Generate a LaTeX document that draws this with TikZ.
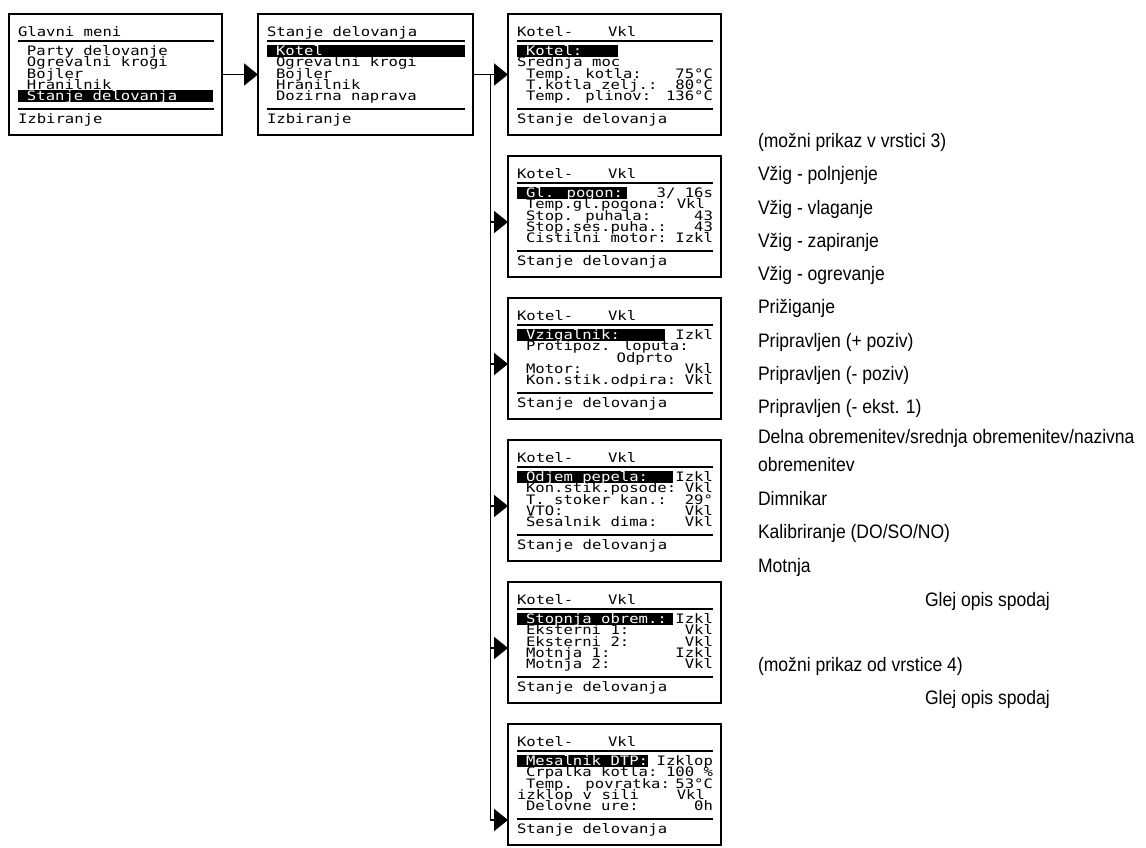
\documentclass[tikz,border=0pt]{standalone}
\usepackage{fontspec}
\setmainfont{Liberation Sans}[FakeStretch=0.9]
\newfontfamily\lcdfont{DejaVu Sans Mono}[FakeStretch=1.2]
\usetikzlibrary{arrows.meta,calc}

\tikzset{
 screen/.style={draw=black, line width=1.7pt, fill=white, minimum width=213pt, minimum height=121pt, inner sep=0pt, outer sep=0pt, anchor=north west},
 lcd/.style={inner sep=0pt, outer sep=0pt, font=\lcdfont\fontsize{13}{13}\selectfont},
 lcdinv/.style={lcd, text=white},
 sepline/.style={line width=1.4pt},
 hlbar/.style={fill=black},
 conn/.style={line width=1.9pt},
 arr/.style={conn, -{Triangle[length=14pt,width=22pt]}},
 note/.style={inner sep=0pt, outer sep=0pt, anchor=base west, font=\fontsize{19.5}{21}\selectfont},
}

% #1 W
\newcommand\lcdlines[1]{%
 \draw[sepline] (9,27) -- (#1-8,27);
 \draw[sepline] (9,95) -- (#1-8,95);}
% #1 name, #2 k, #3 x, #4 label, #5 value
\newcommand\lcdrow[5]{%
 \node[lcd,anchor=base west] (#1r#2) at (#3,{41.6+11.2*#2}) {#4};
 \node[lcd,anchor=base east] (#1v#2) at (205,{41.6+11.2*#2}) {#5};}
% #1 name, #2 k, #3 bar end x, #4 label
\newcommand\lcdhl[4]{%
 \fill[hlbar] (9,{37+11.2*#2-6}) rectangle (#3,{37+11.2*#2+6});
 \node[lcdinv,anchor=base west] (#1h) at (18,{41.6+11.2*#2}) {#4};}
\newcommand\lcdhead[3]{%
 \node[lcd,anchor=base west] (#1t) at (9,22.5) {#2};
 \node[lcd,anchor=base west] (#1u) at (100,22.5) {#3};}
\newcommand\lcdfoot[2]{\node[lcd,anchor=base west] (#1f) at (9,109) {#2};}

\begin{document}
\begin{tikzpicture}[x=1pt,y=-1pt]
\path[fill=white] (0,0) rectangle (1146,847);
\useasboundingbox (0,0) rectangle (1146,847);

% ---- Box 1
\begin{scope}[shift={(9,14)}]
 \node[screen] (b1) at (0,0) {};
 \lcdhead{b1}{Glavni meni}{}
 \lcdlines{213}
 \lcdrow{b1}{0}{18}{Party delovanje}{}
 \lcdrow{b1}{1}{18}{Ogrevalni krogi}{}
 \lcdrow{b1}{2}{18}{Bojler}{}
 \lcdrow{b1}{3}{18}{Hranilnik}{}
 \lcdhl{b1}{4}{204}{Stanje delovanja}
 \lcdfoot{b1}{Izbiranje}
\end{scope}

% ---- Box 2
\begin{scope}[shift={(258,14)}]
 \node[screen, minimum width=215pt] (b2) at (0,0) {};
 \lcdhead{b2}{Stanje delovanja}{}
 \lcdlines{215}
 \lcdhl{b2}{0}{207}{Kotel}
 \lcdrow{b2}{1}{18}{Ogrevalni krogi}{}
 \lcdrow{b2}{2}{18}{Bojler}{}
 \lcdrow{b2}{3}{18}{Hranilnik}{}
 \lcdrow{b2}{4}{18}{Dozirna naprava}{}
 \lcdfoot{b2}{Izbiranje}
\end{scope}

% ---- Box 3
\begin{scope}[shift={(508,14)}]
 \node[screen] (b3) at (0,0) {};
 \lcdhead{b3}{Kotel-}{Vkl}
 \lcdlines{213}
 \lcdhl{b3}{0}{110}{Kotel:}
 \lcdrow{b3}{1}{9}{Srednja moc}{}
 \lcdrow{b3}{2}{18}{Temp. kotla:}{75°C}
 \lcdrow{b3}{3}{18}{T.kotla zelj.:}{80°C}
 \lcdrow{b3}{4}{18}{Temp. plinov:}{136°C}
 \lcdfoot{b3}{Stanje delovanja}
\end{scope}

% ---- Box 4
\begin{scope}[shift={(508,156)}]
 \node[screen] (b4) at (0,0) {};
 \coordinate (b4in) at (0,66);
 \lcdhead{b4}{Kotel-}{Vkl}
 \lcdlines{213}
 \lcdhl{b4}{0}{119}{Gl. pogon:}
 \node[lcd,anchor=base east] (b4v0) at (205,41.6) {3/ 16s};
 \node[lcd,anchor=base west] (b4r1) at (18,52.8) {Temp.gl.pogona:};
 \node[lcd,anchor=base east] (b4v1) at (197,52.8) {Vkl};
 \lcdrow{b4}{2}{18}{Stop. puhala:}{43}
 \lcdrow{b4}{3}{18}{Stop.ses.puha.:}{43}
 \lcdrow{b4}{4}{18}{Cistilni motor:}{Izkl}
 \lcdfoot{b4}{Stanje delovanja}
\end{scope}

% ---- Box 5
\begin{scope}[shift={(508,298)}]
 \node[screen] (b5) at (0,0) {};
 \coordinate (b5in) at (0,66);
 \lcdhead{b5}{Kotel-}{Vkl}
 \lcdlines{213}
 \lcdhl{b5}{0}{157}{Vzigalnik:}
 \node[lcd,anchor=base east] (b5v0) at (205,41.6) {Izkl};
 \lcdrow{b5}{1}{18}{Protipoz. loputa:}{}
 \node[lcd,anchor=base east] (b5o) at (165,{41.6+11.2*2}) {Odprto};
 \lcdrow{b5}{3}{18}{Motor:}{Vkl}
 \lcdrow{b5}{4}{18}{Kon.stik.odpira:}{Vkl}
 \lcdfoot{b5}{Stanje delovanja}
\end{scope}

% ---- Box 6
\begin{scope}[shift={(508,440)}]
 \node[screen] (b6) at (0,0) {};
 \coordinate (b6in) at (0,66);
 \lcdhead{b6}{Kotel-}{Vkl}
 \lcdlines{213}
 \lcdhl{b6}{0}{165}{Odjem pepela:}
 \node[lcd,anchor=base east] (b6v0) at (205,41.6) {Izkl};
 \lcdrow{b6}{1}{18}{Kon.stik.posode:}{Vkl}
 \lcdrow{b6}{2}{18}{T. stoker kan.:}{29°}
 \lcdrow{b6}{3}{18}{VTO:}{Vkl}
 \lcdrow{b6}{4}{18}{Šesalnik dima:}{Vkl}
 \lcdfoot{b6}{Stanje delovanja}
\end{scope}

% ---- Box 7
\begin{scope}[shift={(508,582)}]
 \node[screen] (b7) at (0,0) {};
 \coordinate (b7in) at (0,66);
 \lcdhead{b7}{Kotel-}{Vkl}
 \lcdlines{213}
 \lcdhl{b7}{0}{165}{Stopnja obrem.:}
 \node[lcd,anchor=base east] (b7v0) at (205,41.6) {Izkl};
 \lcdrow{b7}{1}{18}{Eksterni 1:}{Vkl}
 \lcdrow{b7}{2}{18}{Eksterni 2:}{Vkl}
 \lcdrow{b7}{3}{18}{Motnja 1:}{Izkl}
 \lcdrow{b7}{4}{18}{Motnja 2:}{Vkl}
 \lcdfoot{b7}{Stanje delovanja}
\end{scope}

% ---- Box 8
\begin{scope}[shift={(508,724)}]
 \node[screen] (b8) at (0,0) {};
 \coordinate (b8in) at (0,96);
 \lcdhead{b8}{Kotel-}{Vkl}
 \lcdlines{213}
 \lcdhl{b8}{0}{140}{Mesalnik DTP:}
 \node[lcd,anchor=base east] (b8v0) at (205,41.6) {Izklop};
 \lcdrow{b8}{1}{18}{Crpalka kotla:}{100 \%}
 \lcdrow{b8}{2}{18}{Temp. povratka:}{53°C}
 \node[lcd,anchor=base west] (b8r3) at (9,{41.6+11.2*3}) {izklop v sili};
 \node[lcd,anchor=base east] (b8v3) at (197,{41.6+11.2*3}) {Vkl};
 \lcdrow{b8}{4}{18}{Delovne ure:}{0h}
 \lcdfoot{b8}{Stanje delovanja}
\end{scope}

% ---- Connectors
\draw[arr] (b1.east) -- (b2.west);
\draw[arr] (b2.east) -- (b3.west);
\coordinate (trunk) at ($(b2.east)!0.5!(b3.west)$);
\draw[arr] (trunk) |- (b8in);
\draw[arr] (trunk |- b4in) -- (b4in);
\draw[arr] (trunk |- b5in) -- (b5in);
\draw[arr] (trunk |- b6in) -- (b6in);
\draw[arr] (trunk |- b7in) -- (b7in);

% ---- Notes
\node[note] (n1) at (758,147.4) {(možni prikaz v vrstici 3)};
\node[note] (n2) at (758,180.7) {Vžig - polnjenje};
\node[note] (n3) at (758,214) {Vžig - vlaganje};
\node[note] (n4) at (758,247.3) {Vžig - zapiranje};
\node[note] (n5) at (758,280.6) {Vžig - ogrevanje};
\node[note] (n6) at (758,313.9) {Prižiganje};
\node[note] (n7) at (758,347.2) {Pripravljen (+ poziv)};
\node[note] (n8) at (758,380.5) {Pripravljen (- poziv)};
\node[note] (n9) at (758,413.8) {Pripravljen (- ekst. 1)};
\node[note] (n10) at (758,443.5) {Delna obremenitev/srednja obremenitev/nazivna};
\node[note] (n11) at (758,471) {obremenitev};
\node[note] (n12) at (758,505.5) {Dimnikar};
\node[note] (n13) at (758,538.5) {Kalibriranje (DO/SO/NO)};
\node[note] (n14) at (758,572) {Motnja};
\node[note] (n15) at (925,606.5) {Glej opis spodaj};
\node[note] (n16) at (758,671.5) {(možni prikaz od vrstice 4)};
\node[note] (n17) at (925,704) {Glej opis spodaj};
\end{tikzpicture}
\end{document}
